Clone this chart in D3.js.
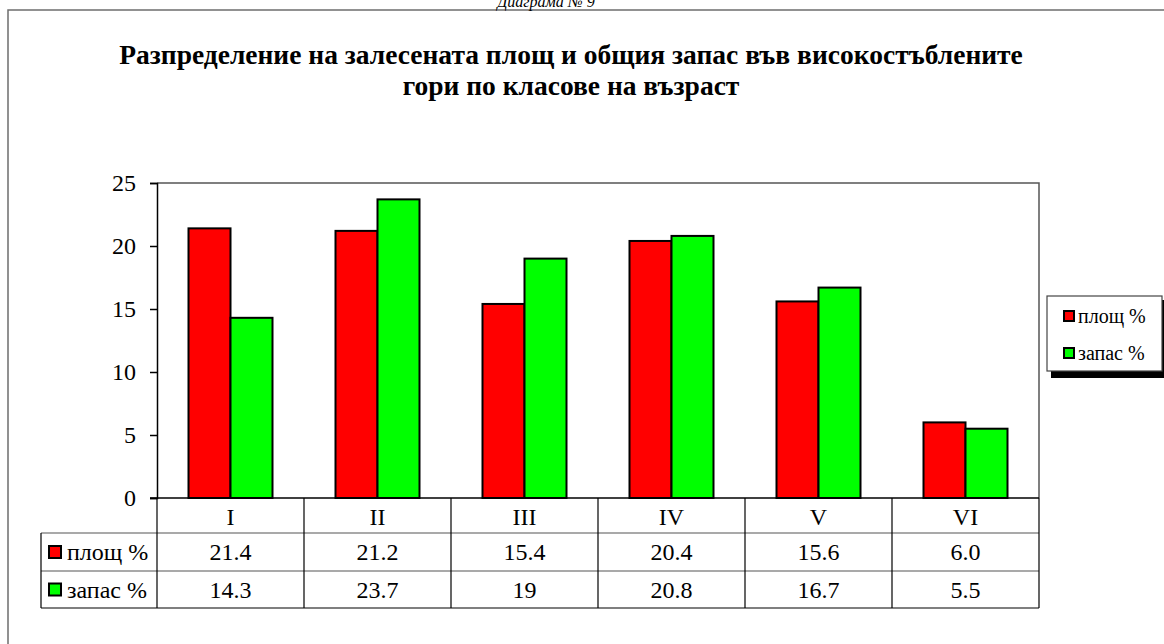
<!DOCTYPE html>
<html>
<head>
<meta charset="utf-8">
<script src="https://cdn.jsdelivr.net/npm/d3@7"></script>
<style>
  body { margin: 0; background: #fff; }
  text { font-family: "Liberation Serif", "Times New Roman", serif; fill: #000; }
</style>
</head>
<body>
<div class="chart"></div>
<script>
// data
var categories = ["I", "II", "III", "IV", "V", "VI"];
var seriesNames = ["площ %", "запас %"];
var area = [21.4, 21.2, 15.4, 20.4, 15.6, 6.0];
var stock = [14.3, 23.7, 19, 20.8, 16.7, 5.5];
var areaLabels = ["21.4", "21.2", "15.4", "20.4", "15.6", "6.0"];
var stockLabels = ["14.3", "23.7", "19", "20.8", "16.7", "5.5"];
var yTicks = [0, 5, 10, 15, 20, 25];
var colors = ["#ff0000", "#00ff00"];

var svgWidth = 1164;
var svgHeight = 644;

var plot = { left: 157, right: 1039, top: 183, bottom: 498 };

var svg = d3.select(".chart")
  .append("svg")
  .attr("width", svgWidth)
  .attr("height", svgHeight);

// outer frame (runs off the page on the right and bottom)
svg.append("rect")
  .attr("x", 8).attr("y", 10)
  .attr("width", 1200).attr("height", 700)
  .attr("fill", "none")
  .attr("stroke", "#6e6e6e")
  .attr("stroke-width", 1.5);

// caption above, cut off by the page top like in the source
svg.append("text")
  .attr("x", 546).attr("y", 7)
  .attr("text-anchor", "middle")
  .style("font-style", "italic")
  .style("font-size", "16px")
  .text("Диаграма № 9");

// title
var title = svg.append("text")
  .attr("text-anchor", "middle")
  .style("font-weight", "bold")
  .style("font-size", "27.5px");
title.append("tspan").attr("x", 571).attr("y", 64)
  .text("Разпределение на залесената площ и общия запас във високостъблените");
title.append("tspan").attr("x", 571).attr("y", 95)
  .text("гори по класове на възраст");

// scales
var x0 = d3.scaleBand()
  .domain(categories)
  .range([plot.left, plot.right]);

var x1 = d3.scaleBand()
  .domain(seriesNames)
  .range([0, x0.bandwidth()])
  .paddingOuter(0.75);

var y = d3.scaleLinear()
  .domain([0, 25])
  .range([plot.bottom, plot.top]);

// plot area border
svg.append("path")
  .attr("d", `M${plot.left},${plot.top}H${plot.right}V${plot.bottom}`)
  .attr("fill", "none")
  .attr("stroke", "#555")
  .attr("stroke-width", 1.5);

// y axis
var leftAxis = d3.axisLeft(y)
  .tickValues(yTicks)
  .tickSize(7)
  .tickPadding(14)
  .tickFormat(d3.format("d"));

var yAxis = svg.append("g")
  .attr("transform", `translate(${plot.left}, 0)`)
  .call(leftAxis);
yAxis.select(".domain").attr("stroke", "#000").attr("stroke-width", 1.5);
yAxis.selectAll(".tick line").attr("stroke", "#000").attr("stroke-width", 1.5);
yAxis.selectAll(".tick text")
  .style("font-family", "'Liberation Serif', serif")
  .style("font-size", "24px");

// bars
var rows = categories.map((c, i) => ({ cat: c, vals: [area[i], stock[i]] }));

var groups = svg.selectAll(".grp")
  .data(rows)
  .enter()
  .append("g")
  .attr("transform", d => `translate(${x0(d.cat)}, 0)`);

groups.selectAll("rect")
  .data(d => d.vals.map((v, j) => ({ name: seriesNames[j], v: v, j: j })))
  .enter()
  .append("rect")
  .attr("x", d => x1(d.name))
  .attr("y", d => y(d.v))
  .attr("width", x1.bandwidth())
  .attr("height", d => y(0) - y(d.v))
  .attr("fill", d => colors[d.j])
  .attr("stroke", "#000")
  .attr("stroke-width", 2);

// baseline
svg.append("line")
  .attr("x1", plot.left - 7).attr("x2", plot.right)
  .attr("y1", plot.bottom).attr("y2", plot.bottom)
  .attr("stroke", "#000").attr("stroke-width", 1.5);

// data table
var tableLeft = 41;
var rowLines = [plot.bottom, 533, 571, 608];
var tbl = svg.append("g").attr("stroke", "#000").attr("stroke-width", 1.2);

// horizontal lines
tbl.append("line").attr("x1", tableLeft).attr("x2", plot.right)
  .attr("y1", rowLines[1]).attr("y2", rowLines[1]).attr("stroke", "#555");
tbl.append("line").attr("x1", tableLeft).attr("x2", plot.right)
  .attr("y1", rowLines[2]).attr("y2", rowLines[2]).attr("stroke", "#555");
tbl.append("line").attr("x1", tableLeft).attr("x2", plot.right)
  .attr("y1", rowLines[3]).attr("y2", rowLines[3]);
tbl.append("line").attr("x1", tableLeft).attr("x2", tableLeft)
  .attr("y1", rowLines[1]).attr("y2", rowLines[3]);

// vertical column lines
var colEdges = categories.map(c => x0(c)).concat([plot.right]);
tbl.selectAll(".vl")
  .data(colEdges)
  .enter()
  .append("line")
  .attr("x1", d => d).attr("x2", d => d)
  .attr("y1", plot.bottom).attr("y2", rowLines[3]);

// category labels
svg.selectAll(".cat")
  .data(categories)
  .enter()
  .append("text")
  .attr("x", d => x0(d) + x0.bandwidth() / 2)
  .attr("y", 525)
  .attr("text-anchor", "middle")
  .style("font-size", "24px")
  .text(d => d);

var tableRows = [areaLabels, stockLabels];
tableRows.forEach(function(labels, r) {
  var mid = (rowLines[r + 1] + rowLines[r + 2]) / 2;
  svg.selectAll(".val" + r)
    .data(labels)
    .enter()
    .append("text")
    .attr("x", (d, i) => x0(categories[i]) + x0.bandwidth() / 2)
    .attr("y", mid + 8)
    .attr("text-anchor", "middle")
    .style("font-size", "24px")
    .text(d => d);

  svg.append("rect")
    .attr("x", tableLeft + 8).attr("y", mid - 6)
    .attr("width", 12).attr("height", 12)
    .attr("fill", colors[r])
    .attr("stroke", "#000").attr("stroke-width", 2);
  svg.append("text")
    .attr("x", tableLeft + 26).attr("y", mid + 8)
    .style("font-size", "24px")
    .text(seriesNames[r]);
});

// legend
var legend = svg.append("g");
legend.append("rect")
  .attr("x", 1051).attr("y", 300)
  .attr("width", 120).attr("height", 78)
  .attr("fill", "#000");
legend.append("rect")
  .attr("x", 1047).attr("y", 296)
  .attr("width", 115).attr("height", 75)
  .attr("fill", "#fff")
  .attr("stroke", "#444")
  .attr("stroke-width", 1.2);

seriesNames.forEach(function(name, i) {
  var cy = 316 + i * 37;
  legend.append("rect")
    .attr("x", 1064).attr("y", cy - 5)
    .attr("width", 10).attr("height", 10)
    .attr("fill", colors[i])
    .attr("stroke", "#000").attr("stroke-width", 2);
  legend.append("text")
    .attr("x", 1078).attr("y", cy + 7)
    .style("font-size", "20px")
    .text(name);
});
</script>
</body>
</html>
